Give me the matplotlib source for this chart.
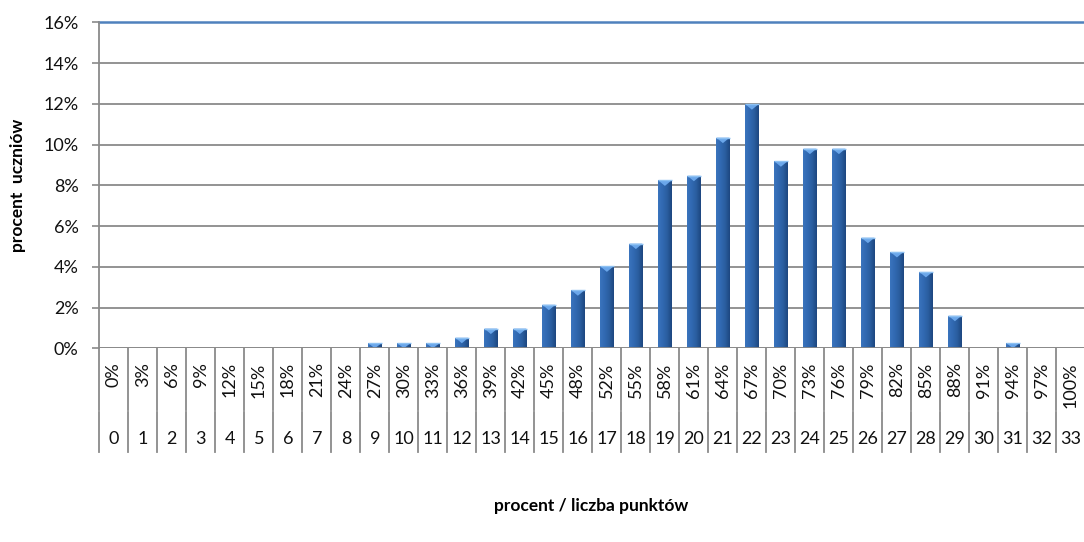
import matplotlib
matplotlib.use("Agg")
import matplotlib.pyplot as plt
import numpy as np
from matplotlib.colors import LinearSegmentedColormap
from matplotlib.patches import Polygon
from matplotlib.ticker import FuncFormatter

plt.rcParams["font.family"] = ["Lato", "DejaVu Sans"]

# liczba punktów (0-33) i odpowiadający jej procent wyniku
points = [0, 1, 2, 3, 4, 5, 6, 7, 8, 9, 10, 11, 12, 13, 14, 15, 16,
          17, 18, 19, 20, 21, 22, 23, 24, 25, 26, 27, 28, 29, 30, 31, 32, 33]
percent_labels = ["0%", "3%", "6%", "9%", "12%", "15%", "18%", "21%", "24%",
                  "27%", "30%", "33%", "36%", "39%", "42%", "45%", "48%",
                  "52%", "55%", "58%", "61%", "64%", "67%", "70%", "73%",
                  "76%", "79%", "82%", "85%", "88%", "91%", "94%", "97%", "100%"]
# procent uczniów z daną liczbą punktów
share = [0, 0, 0, 0, 0, 0, 0, 0, 0, 0.25, 0.25, 0.25, 0.52, 0.97, 0.97,
         2.14, 2.85, 4.02, 5.14, 8.24, 8.47, 10.34, 11.98, 9.18, 9.80,
         9.80, 5.43, 4.73, 3.75, 1.60, 0, 0.26, 0, 0]
y_ticks = [0, 2, 4, 6, 8, 10, 12, 14, 16]

W, H = 1084, 542
fig = plt.figure(figsize=(W / 100, H / 100), dpi=100)
ax = fig.add_axes([99.3 / W, (H - 348.3) / H, (W - 99.3) / W, 326 / H])

grid_col = "#8a8a8a"
txt_col = "#111111"
bar_w = 0.46

ax.set_xlim(-0.5, 33.45)
ax.set_ylim(0, 16)
ax.set_yticks(y_ticks)
ax.yaxis.set_major_formatter(FuncFormatter(lambda v, _: f"{v:.0f}%"))
ax.tick_params(axis="y", length=5, width=1.2, color=grid_col,
               labelsize=13, pad=10, labelcolor=txt_col)
ax.tick_params(axis="x", bottom=False, labelbottom=False)
ax.grid(axis="y", color=grid_col, linewidth=1.3, zorder=0)
ax.set_axisbelow(True)
for s in ["top", "right", "bottom"]:
    ax.spines[s].set_visible(False)
ax.spines["left"].set_color(grid_col)
ax.spines["left"].set_linewidth(1.3)
ax.axhline(16, color="#4f81bd", linewidth=1.8, zorder=1, clip_on=False)
ax.axhline(0, color=grid_col, linewidth=1.3, zorder=3)

# słupki z gradientem w poziomie i jaśniejszym trójkątem na górze
grad = LinearSegmentedColormap.from_list(
    "bar", ["#3a74bd", "#3169b2", "#2a5e9f", "#1d4680"])
gradient = np.linspace(0, 1, 64).reshape(1, -1)
bars = ax.bar(points, share, width=bar_w, color="#2e64a8", zorder=2)
cap_h = 0.27
for rect, val in zip(bars, share):
    if val <= 0:
        rect.set_visible(False)
        continue
    x0 = rect.get_x()
    im = ax.imshow(gradient, cmap=grad, aspect="auto", zorder=2.5,
                   extent=(x0, x0 + bar_w, 0, val))
    im.set_clip_path(rect)
    h = min(cap_h, val)
    tri = Polygon([(x0, val), (x0 + bar_w, val), (x0 + bar_w / 2, val - h)],
                  closed=True, facecolor="#6aa6ea", edgecolor="none", zorder=2.6)
    ax.add_patch(tri)
    ax.plot([x0, x0 + bar_w], [val, val], color="#8cc0f2", linewidth=1,
            zorder=2.7, solid_capstyle="butt")
ax.set_xlim(-0.5, 33.45)
ax.set_ylim(0, 16)

# dwupoziomowa oś kategorii pod wykresem
trans = ax.get_xaxis_transform()
for p in points + [points[-1] + 1]:
    xb = p - 0.5
    ax.plot([xb, xb], [0, -0.188], transform=trans, color=grid_col,
            linewidth=1.3, clip_on=False)
    ax.plot([xb, xb], [-0.196, -0.318], transform=trans, color=grid_col,
            linewidth=1.3, clip_on=False)
for p, lab in zip(points, percent_labels):
    ax.text(p, -0.043, lab, transform=trans, rotation=90, ha="center",
            va="top", fontsize=13, color=txt_col, clip_on=False)
    ax.text(p, -0.279, str(p), transform=trans, ha="center", va="center",
            fontsize=13, color=txt_col, clip_on=False)

fig.text(18 / W, 1 - 185 / H, "procent  uczniów", rotation=90,
         ha="center", va="center", fontsize=12.5, fontweight="bold")
fig.text(591 / W, 1 - 506 / H, "procent / liczba punktów",
         ha="center", va="center", fontsize=12.5, fontweight="bold")

fig.savefig("out.png", dpi=100)
